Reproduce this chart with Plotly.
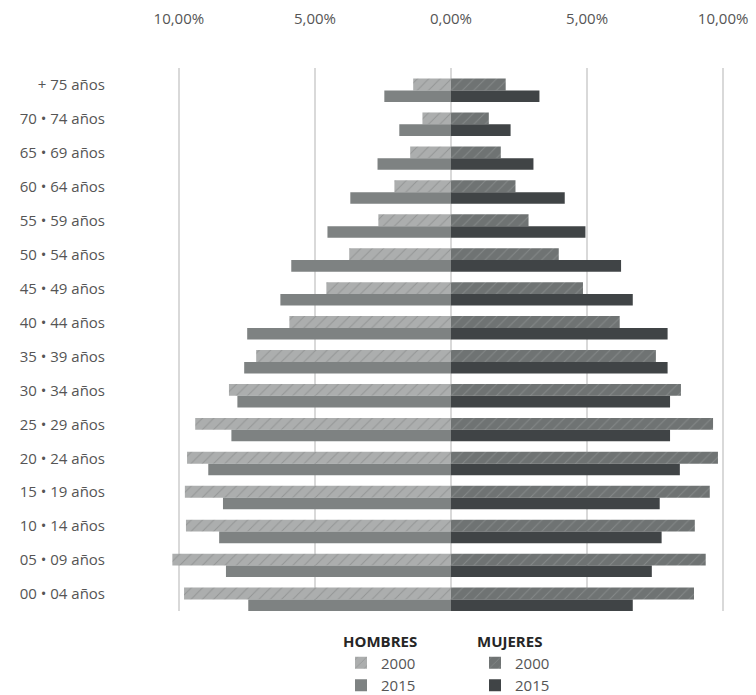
import plotly.graph_objects as go

categories = ["+ 75 años", "70 • 74 años", "65 • 69 años", "60 • 64 años", "55 • 59 años",
              "50 • 54 años", "45 • 49 años", "40 • 44 años", "35 • 39 años", "30 • 34 años",
              "25 • 29 años", "20 • 24 años", "15 • 19 años", "10 • 14 años", "05 • 09 años",
              "00 • 04 años"]

hombres_2000 = [1.39, 1.05, 1.50, 2.08, 2.67, 3.74, 4.58, 5.94, 7.16, 8.16, 9.40, 9.70, 9.78, 9.74, 10.24, 9.81]
hombres_2015 = [2.45, 1.90, 2.70, 3.70, 4.54, 5.87, 6.27, 7.49, 7.60, 7.85, 8.07, 8.92, 8.38, 8.52, 8.27, 7.45]
mujeres_2000 = [2.01, 1.39, 1.83, 2.37, 2.85, 3.96, 4.85, 6.20, 7.53, 8.45, 9.63, 9.81, 9.51, 8.96, 9.36, 8.93]
mujeres_2015 = [3.25, 2.19, 3.03, 4.18, 4.94, 6.25, 6.68, 7.96, 7.96, 8.05, 8.05, 8.41, 7.67, 7.74, 7.38, 6.68]

tick_vals = [-10, -5, 0, 5, 10]
tick_text = ["10,00%", "5,00%", "0,00%", "5,00%", "10,00%"]

FONT = "Open Sans"
TXT = "#555555"

fig = go.Figure()

def add(vals, name, legend, color, pattern=None, offset=0.0, width=0.35):
    marker = dict(color=color, line=dict(width=0))
    if pattern:
        marker["pattern"] = pattern
    fig.add_trace(go.Bar(
        y=categories, x=vals, orientation="h", name=name, legend=legend,
        marker=marker, offset=offset, width=width, hoverinfo="skip",
    ))

add([-v for v in hombres_2000], "2000", "legend", "#acaeae",
    pattern=dict(shape="/", size=8, solidity=0.12, fgcolor="#939595", bgcolor="#acaeae", fillmode="replace"),
    offset=-0.19, width=0.35)
add([-v for v in hombres_2015], "2015", "legend", "#7e8282", offset=0.16, width=0.34)
add(mujeres_2000, "2000", "legend2", "#6f7373",
    pattern=dict(shape="/", size=8, solidity=0.12, fgcolor="#858989", bgcolor="#6f7373", fillmode="replace"),
    offset=-0.19, width=0.35)
add(mujeres_2015, "2015", "legend2", "#404446", offset=0.16, width=0.34)

fig.update_layout(
    width=756, height=695,
    margin=dict(l=168, r=22, t=68, b=84, autoexpand=False),
    paper_bgcolor="white", plot_bgcolor="white",
    barmode="overlay",
    font=dict(family=FONT, size=15, color=TXT),
    xaxis=dict(
        range=[-10.4, 10.4], side="top", tickvals=tick_vals, ticktext=tick_text,
        showgrid=True, gridcolor="#d9d9d9", gridwidth=1.5,
        zeroline=True, zerolinecolor="#d9d9d9", zerolinewidth=1.5,
        ticks="", ticklabelstandoff=40, showline=False, fixedrange=True, automargin=False,
        tickangle=0,
        tickfont=dict(family=FONT, size=15, color=TXT),
    ),
    yaxis=dict(
        categoryorder="array", categoryarray=categories, autorange="reversed",
        ticks="", showgrid=False, zeroline=False, showline=False,
        ticklabelstandoff=62, fixedrange=True, automargin=False,
        tickfont=dict(family=FONT, size=15, color=TXT),
    ),
    legend=dict(
        xref="container", yref="container", x=341/756, y=1 - 627/695,
        xanchor="left", yanchor="top", orientation="v",
        title=dict(text="<b>HOMBRES</b>", side="top", font=dict(family=FONT, size=15, color="#262626")),
        font=dict(family=FONT, size=15, color=TXT), tracegroupgap=0,
        bgcolor="rgba(0,0,0,0)", itemwidth=30, traceorder="normal",
    ),
    legend2=dict(
        xref="container", yref="container", x=475/756, y=1 - 627/695,
        xanchor="left", yanchor="top", orientation="v",
        title=dict(text="<b>MUJERES</b>", side="top", font=dict(family=FONT, size=15, color="#262626")),
        font=dict(family=FONT, size=15, color=TXT), tracegroupgap=0,
        bgcolor="rgba(0,0,0,0)", itemwidth=30, traceorder="normal",
    ),
)

fig.write_html("out.html")
